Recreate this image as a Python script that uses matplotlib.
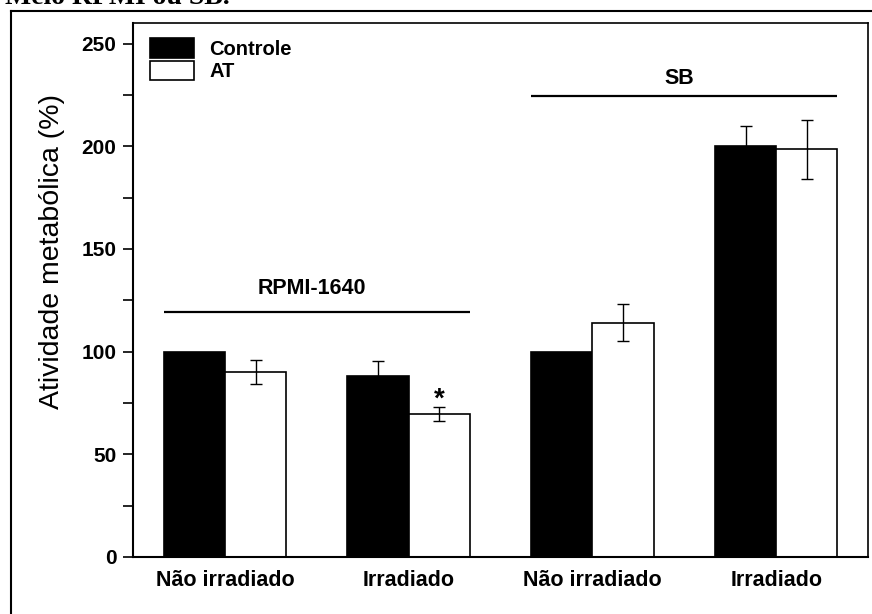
import numpy as np
import matplotlib
matplotlib.use("Agg")
import matplotlib.pyplot as plt
from matplotlib.lines import Line2D
from matplotlib.ticker import MultipleLocator

plt.rcParams['font.family'] = ['Liberation Sans', 'DejaVu Sans']

# Metabolic activity (%) per condition
groups = ["Não irradiado", "Irradiado", "Não irradiado", "Irradiado"]
controle = [100, 88, 100, 200]
controle_err = [0, 7.5, 0, 10]
at = [90, 69.5, 114, 198.5]
at_err = [6, 3.5, 9, 14.5]

media = ["RPMI-1640", "SB"]
media_level = [119.5, 224.5]      # height of the bracket line under each medium label
media_text_y = [128, 230.5]

fig = plt.figure(figsize=(8.72, 6.14), dpi=100)
ax = fig.add_axes([133 / 872, 57 / 614, 735 / 872, 534 / 614])

cx = np.arange(len(groups)) * 3 + 1.5
ax.bar(cx - 0.5, controle, width=1, color='black', edgecolor='black', linewidth=1.2, label='Controle')
ax.bar(cx + 0.5, at, width=1, color='white', edgecolor='black', linewidth=1.2, label='AT')

# error bars only where an error was measured
for xs, ys, es in [(cx - 0.5, controle, controle_err), (cx + 0.5, at, at_err)]:
    m = np.array(es) > 0
    ax.errorbar(np.array(xs)[m], np.array(ys)[m], yerr=np.array(es)[m], fmt='none',
                ecolor='black', elinewidth=1.0, capsize=4, capthick=1.0, zorder=3)

# significance mark over AT / irradiated RPMI
ax.text(cx[1] + 0.5, at[1] + at_err[1], '*', ha='center', va='baseline',
        fontsize=20, fontweight='bold')

# medium brackets
for k, (name, lvl, ty) in enumerate(zip(media, media_level, media_text_y)):
    x0, x1 = cx[2 * k] - 1, cx[2 * k + 1] + 1
    ax.plot([x0, x1], [lvl, lvl], color='black', linewidth=1.6, solid_capstyle='butt')
    ax.text((x0 + x1) / 2 - 0.08, ty, name, ha='center', va='baseline',
            fontsize=15.5, fontweight='bold')

ax.set_xlim(0, 12)
ax.set_ylim(0, 260)
ax.set_xticks(cx)
ax.set_xticklabels(groups, fontsize=15.5, fontweight='bold')
ax.tick_params(axis='x', length=0, pad=9)

ax.yaxis.set_major_locator(MultipleLocator(50))
ax.yaxis.set_minor_locator(MultipleLocator(25))
ax.set_yticks(range(0, 251, 50))
ax.tick_params(axis='y', which='both', direction='out', length=7, width=1.2, pad=5)
ax.tick_params(axis='y', which='major', labelsize=15)
for lab in ax.get_yticklabels():
    lab.set_fontweight('bold')

ax.set_ylabel("Atividade metabólica (%)", fontsize=20.5)
ax.yaxis.set_label_coords(-0.093, 0.573)

for side in ['left', 'bottom']:
    ax.spines[side].set_linewidth(1.5)
for side in ['top', 'right']:
    ax.spines[side].set_linewidth(1.2)

ax.legend(loc='upper left', bbox_to_anchor=(0.023, 0.972), frameon=False,
          borderpad=0, borderaxespad=0, handlelength=2.2, handleheight=1.13,
          labelspacing=0.1, handletextpad=0.75,
          prop={'weight': 'bold', 'size': 14.5})

# frame of the page figure and the caption line above it
fig.add_artist(Line2D([11 / 872, 11 / 872], [0, 1 - 11 / 614], transform=fig.transFigure,
                      color='black', linewidth=1.5))
fig.add_artist(Line2D([11 / 872, 1], [1 - 11 / 614, 1 - 11 / 614], transform=fig.transFigure,
                      color='black', linewidth=1.5))
fig.text(0.006, 1 - 4 / 614, "Meio RPMI ou SB.", family='Liberation Serif',
         fontweight='bold', fontsize=20, va='baseline')

fig.savefig('out.png', dpi=100)
